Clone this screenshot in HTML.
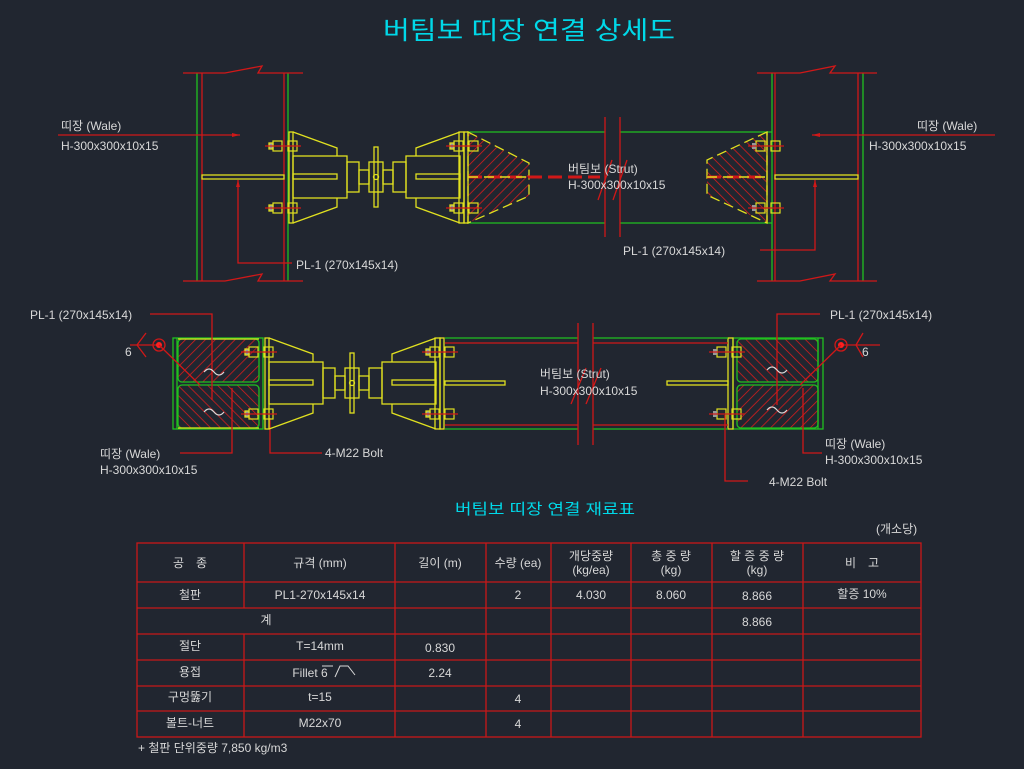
<!DOCTYPE html>
<html><head><meta charset="utf-8">
<style>
html,body{margin:0;padding:0;background:#212630;}
svg{display:block;}
text{font-family:"Liberation Sans","Noto Sans CJK KR",sans-serif;}
</style></head>
<body>
<svg width="1024" height="769" viewBox="0 0 1024 769" xmlns="http://www.w3.org/2000/svg">
<defs>
<pattern id="h1" patternUnits="userSpaceOnUse" width="7" height="7" patternTransform="rotate(45)">
<line x1="0" y1="0" x2="0" y2="7" stroke="#e01c1c" stroke-width="1.5"/>
</pattern>
<pattern id="h2" patternUnits="userSpaceOnUse" width="7" height="7" patternTransform="rotate(-45)">
<line x1="0" y1="0" x2="0" y2="7" stroke="#e01c1c" stroke-width="1.5"/>
</pattern>
<g id="bolt">
<rect x="-12" y="-5" width="9" height="10" fill="none" stroke="#e0e020" stroke-width="1.2"/>
<rect x="3" y="-5" width="9" height="10" fill="none" stroke="#e0e020" stroke-width="1.2"/>
<rect x="-16" y="-3" width="4" height="6" fill="#999"/>
<line x1="-20" y1="0" x2="16" y2="0" stroke="#d01818" stroke-width="1.3"/>
</g>
<g id="asm" fill="none" stroke="#e0e020" stroke-width="1.3">
<rect x="289" y="132" width="4" height="91"/>
<polyline points="293,132 337,148 337,156"/>
<polyline points="293,223 337,207 337,198"/>
<rect x="293" y="156" width="54" height="42"/>
<rect x="293" y="174" width="44" height="5"/>
<rect x="347" y="162" width="12" height="30"/>
<rect x="359" y="170" width="10" height="14"/>
<rect x="369" y="162" width="14" height="30"/>
<rect x="374" y="147" width="4" height="60"/>
<circle cx="376" cy="177" r="2.5"/>
<rect x="383" y="170" width="10" height="14"/>
<rect x="393" y="162" width="13" height="30"/>
<rect x="406" y="156" width="54" height="42"/>
<rect x="416" y="174" width="44" height="5"/>
<polyline points="460,132 416,148 416,156"/>
<polyline points="460,223 416,207 416,198"/>
<rect x="459" y="132" width="5" height="91"/>
<rect x="464" y="132" width="4" height="91"/>
<use href="#bolt" x="285" y="146"/>
<use href="#bolt" x="285" y="208"/>
<use href="#bolt" x="466" y="146"/>
<use href="#bolt" x="466" y="208"/>
</g>
</defs>

<text x="383" y="39" font-size="25" fill="#00d8e8" textLength="292" lengthAdjust="spacingAndGlyphs">버팀보 띠장 연결 상세도</text>

<g fill="none" stroke-width="1.3">
<line x1="197" y1="73" x2="197" y2="281" stroke="#20c020"/>
<line x1="202" y1="73" x2="202" y2="281" stroke="#d01818"/>
<line x1="284" y1="73" x2="284" y2="281" stroke="#d01818"/>
<line x1="288" y1="73" x2="288" y2="281" stroke="#20c020"/>
<polyline points="183,73 225,73 262,66 258,73 303,73" stroke="#d01818"/>
<polyline points="183,281 225,281 262,274 258,281 303,281" stroke="#d01818"/>
<rect x="202" y="175" width="82" height="4" stroke="#e0e020"/>
<line x1="58" y1="135" x2="240" y2="135" stroke="#d01818"/>
<polygon points="240,135 232,133 232,137" fill="#d01818" stroke="none"/>
<polyline points="238,180 238,263 292,263" stroke="#d01818"/>
<polygon points="238,180 236,187 240,187" fill="#d01818" stroke="none"/>

<line x1="772" y1="73" x2="772" y2="281" stroke="#20c020"/>
<line x1="775" y1="73" x2="775" y2="281" stroke="#d01818"/>
<line x1="858" y1="73" x2="858" y2="281" stroke="#d01818"/>
<line x1="863" y1="73" x2="863" y2="281" stroke="#20c020"/>
<polyline points="757,73 800,73 835,66 830,73 877,73" stroke="#d01818"/>
<polyline points="757,281 800,281 835,274 830,281 877,281" stroke="#d01818"/>
<rect x="775" y="175" width="83" height="4" stroke="#e0e020"/>
<line x1="812" y1="135" x2="995" y2="135" stroke="#d01818"/>
<polygon points="812,135 820,133 820,137" fill="#d01818" stroke="none"/>
<polyline points="815,180 815,250 760,250" stroke="#d01818"/>
<polygon points="815,180 813,187 817,187" fill="#d01818" stroke="none"/>

<line x1="468" y1="132" x2="605" y2="132" stroke="#20c020"/>
<line x1="620" y1="132" x2="772" y2="132" stroke="#20c020"/>
<line x1="468" y1="223" x2="605" y2="223" stroke="#20c020"/>
<line x1="620" y1="223" x2="772" y2="223" stroke="#20c020"/>
<line x1="605" y1="117" x2="605" y2="237" stroke="#d01818"/>
<line x1="620" y1="117" x2="620" y2="237" stroke="#d01818"/>
<path d="M598,200 L612,160 M613,200 L627,160" stroke="#d01818"/>
<polygon points="468,132 529,163 529,196 468,223" fill="url(#h1)" stroke="#e0e020" stroke-dasharray="10,5"/>
<polygon points="767,132 707,160 707,195 767,223" fill="url(#h2)" stroke="#e0e020" stroke-dasharray="10,5"/>
<line x1="767" y1="132" x2="767" y2="223" stroke="#e0e020"/>
<line x1="468" y1="177" x2="600" y2="177" stroke="#d01818" stroke-width="3" stroke-dasharray="14,6"/>
<line x1="707" y1="177" x2="767" y2="177" stroke="#d01818" stroke-width="3" stroke-dasharray="14,6"/>
<line x1="468" y1="177" x2="529" y2="177" stroke="#e0e020" stroke-width="1.5" stroke-dasharray="10,6"/>
<line x1="707" y1="177" x2="767" y2="177" stroke="#e0e020" stroke-width="1.5" stroke-dasharray="10,6"/>
<use href="#bolt" x="768" y="146"/>
<use href="#bolt" x="768" y="208"/>
</g>
<use href="#asm"/>

<g font-size="12" fill="#d8d8d8">
<text x="61" y="130">띠장 (Wale)</text>
<text x="61" y="150">H-300x300x10x15</text>
<text x="917" y="130">띠장 (Wale)</text>
<text x="869" y="150">H-300x300x10x15</text>
<text x="568" y="173">버팀보 (Strut)</text>
<text x="568" y="189">H-300x300x10x15</text>
<text x="296" y="269">PL-1 (270x145x14)</text>
<text x="623" y="255">PL-1 (270x145x14)</text>
</g>

<g fill="none" stroke-width="1.3">
<rect x="178" y="339" width="81" height="43" rx="4" fill="url(#h1)" stroke="#20c020"/>
<rect x="178" y="385" width="81" height="43" rx="4" fill="url(#h2)" stroke="#20c020"/>
<rect x="173" y="338" width="90" height="91" stroke="#20c020"/>
<line x1="177" y1="338" x2="177" y2="429" stroke="#20c020"/>
<line x1="178" y1="339" x2="259" y2="339" stroke="#e0e020"/>
<line x1="178" y1="428" x2="259" y2="428" stroke="#e0e020"/>
<rect x="737" y="339" width="81" height="43" rx="4" fill="url(#h2)" stroke="#20c020"/>
<rect x="737" y="385" width="81" height="43" rx="4" fill="url(#h1)" stroke="#20c020"/>
<rect x="733" y="338" width="90" height="91" stroke="#20c020"/>
<line x1="818" y1="338" x2="818" y2="429" stroke="#20c020"/>
<rect x="728" y="338" width="5" height="91" stroke="#e0e020"/>
<line x1="445" y1="338" x2="578" y2="338" stroke="#20c020"/>
<line x1="593" y1="338" x2="728" y2="338" stroke="#20c020"/>
<line x1="445" y1="429" x2="578" y2="429" stroke="#20c020"/>
<line x1="593" y1="429" x2="728" y2="429" stroke="#20c020"/>
<line x1="445" y1="343" x2="578" y2="343" stroke="#d01818"/>
<line x1="593" y1="343" x2="728" y2="343" stroke="#d01818"/>
<line x1="445" y1="425" x2="578" y2="425" stroke="#d01818"/>
<line x1="593" y1="425" x2="728" y2="425" stroke="#d01818"/>
<line x1="578" y1="323" x2="578" y2="445" stroke="#d01818"/>
<line x1="593" y1="323" x2="593" y2="445" stroke="#d01818"/>
<path d="M571,404 L586,368 M586,404 L601,368" stroke="#d01818"/>
<rect x="445" y="381" width="60" height="4" stroke="#e0e020"/>
<rect x="667" y="381" width="61" height="4" stroke="#e0e020"/>
<use href="#bolt" x="729" y="352"/>
<use href="#bolt" x="729" y="414"/>
<line x1="130" y1="345" x2="160" y2="345" stroke="#d01818"/>
<polyline points="146,333 137,345 146,357" stroke="#d01818"/>
<circle cx="159" cy="345" r="6" stroke="#d01818"/>
<circle cx="159" cy="345" r="3" fill="#ff2020" stroke="none"/>
<line x1="159" y1="345" x2="200" y2="385" stroke="#d01818"/>
<line x1="841" y1="345" x2="880" y2="345" stroke="#d01818"/>
<polyline points="863,333 856,345 863,357" stroke="#d01818"/>
<circle cx="841" cy="345" r="6" stroke="#d01818"/>
<circle cx="841" cy="345" r="3" fill="#ff2020" stroke="none"/>
<line x1="841" y1="345" x2="800" y2="385" stroke="#d01818"/>
<polyline points="150,314 212,314 212,400" stroke="#d01818"/>
<polyline points="180,453 232,453 232,388" stroke="#d01818"/>
<polyline points="322,453 270,453 270,418" stroke="#d01818"/>
<polyline points="820,314 777,314 777,405" stroke="#d01818"/>
<polyline points="822,453 803,453 803,388" stroke="#d01818"/>
<polyline points="748,481 725,481 725,415" stroke="#d01818"/>
</g>
<use href="#asm" transform="translate(-24,206)"/>
<g fill="none" stroke="#d8d8d8" stroke-width="1.2">
<path d="M204,372 q5,-6 10,0 q5,6 10,0"/>
<path d="M204,412 q5,-6 10,0 q5,6 10,0"/>
<path d="M767,370 q5,-6 10,0 q5,6 10,0"/>
<path d="M767,410 q5,-6 10,0 q5,6 10,0"/>
</g>

<g font-size="12" fill="#d8d8d8">
<text x="30" y="319">PL-1 (270x145x14)</text>
<text x="125" y="356">6</text>
<text x="100" y="458">띠장 (Wale)</text>
<text x="100" y="474">H-300x300x10x15</text>
<text x="325" y="457">4-M22 Bolt</text>
<text x="540" y="378">버팀보 (Strut)</text>
<text x="540" y="395">H-300x300x10x15</text>
<text x="830" y="319">PL-1 (270x145x14)</text>
<text x="862" y="356">6</text>
<text x="825" y="448">띠장 (Wale)</text>
<text x="825" y="464">H-300x300x10x15</text>
<text x="769" y="486">4-M22 Bolt</text>
</g>

<text x="455" y="514" font-size="15" fill="#00d8e8" textLength="180" lengthAdjust="spacingAndGlyphs">버팀보 띠장 연결 재료표</text>
<text x="876" y="533" font-size="12" fill="#d8d8d8">(개소당)</text>
<g stroke="#c81818" stroke-width="1.3" fill="none">
<rect x="137" y="543" width="784" height="194"/>
<line x1="137" y1="582" x2="921" y2="582"/>
<line x1="137" y1="608" x2="921" y2="608"/>
<line x1="137" y1="634" x2="921" y2="634"/>
<line x1="137" y1="660" x2="921" y2="660"/>
<line x1="137" y1="686" x2="921" y2="686"/>
<line x1="137" y1="711" x2="921" y2="711"/>
<line x1="244" y1="543" x2="244" y2="608"/>
<line x1="244" y1="634" x2="244" y2="737"/>
<line x1="395" y1="543" x2="395" y2="737"/>
<line x1="486" y1="543" x2="486" y2="737"/>
<line x1="551" y1="543" x2="551" y2="737"/>
<line x1="631" y1="543" x2="631" y2="737"/>
<line x1="712" y1="543" x2="712" y2="737"/>
<line x1="803" y1="543" x2="803" y2="737"/>
</g>
<g font-size="12" fill="#d8d8d8" text-anchor="middle">
<text x="190" y="567">공　종</text>
<text x="320" y="567">규격 (mm)</text>
<text x="440" y="567">길이 (m)</text>
<text x="518" y="567">수량 (ea)</text>
<text x="591" y="560">개당중량</text>
<text x="591" y="574">(kg/ea)</text>
<text x="671" y="560">총 중 량</text>
<text x="671" y="574">(kg)</text>
<text x="757" y="560">할 증 중 량</text>
<text x="757" y="574">(kg)</text>
<text x="862" y="567">비　고</text>
<text x="190" y="599">철판</text>
<text x="320" y="599">PL1-270x145x14</text>
<text x="518" y="599">2</text>
<text x="591" y="599">4.030</text>
<text x="671" y="599">8.060</text>
<text x="757" y="600">8.866</text>
<text x="862" y="598">할증 10%</text>
<text x="266" y="624">계</text>
<text x="757" y="626">8.866</text>
<text x="190" y="650">절단</text>
<text x="320" y="650">T=14mm</text>
<text x="440" y="652">0.830</text>
<text x="190" y="676">용접</text>
<text x="310" y="677">Fillet 6</text>
<text x="440" y="677">2.24</text>
<text x="190" y="701">구멍뚫기</text>
<text x="320" y="701">t=15</text>
<text x="518" y="703">4</text>
<text x="190" y="727">볼트-너트</text>
<text x="320" y="727">M22x70</text>
<text x="518" y="728">4</text>
</g>
<path d="M322,666 L333,666 M335,677 L340,666 L348,666 L355,675" stroke="#d8d8d8" fill="none" stroke-width="1"/>
<text x="138" y="752" font-size="12" fill="#d8d8d8">+ 철판 단위중량 7,850 kg/m3</text>
</svg>
</body></html>
